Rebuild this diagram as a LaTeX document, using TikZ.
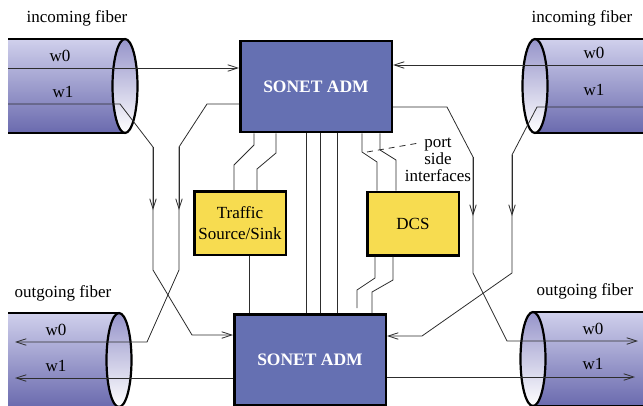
\documentclass[tikz,border=0pt]{standalone}
\usepackage{fontspec}
\setmainfont{Liberation Serif}
\usetikzlibrary{arrows.meta}

\definecolor{admblue}{RGB}{101,112,178}
\definecolor{boxyellow}{RGB}{247,220,80}
\definecolor{fibtop}{RGB}{208,208,236}
\definecolor{fibbot}{RGB}{106,106,174}
\definecolor{captop}{RGB}{150,148,202}
\definecolor{wirecol}{RGB}{45,45,45}

% fibre cable: #1 = open end x, #2 = cap centre x, #3 = centre y
\newcommand{\fibercable}[3]{%
  \shade[top color=fibtop, bottom color=fibbot] (#1,#3-47) rectangle (#2,#3+47);
  \draw[line width=2.2pt] (#1,#3-47) -- (#2,#3-47) (#1,#3+47) -- (#2,#3+47);
  \shade[top color=captop, bottom color=white] (#2,#3) ellipse [x radius=12.5pt, y radius=47pt];
  \draw[line width=2.2pt] (#2,#3) ellipse [x radius=12.5pt, y radius=47pt];
}

\begin{document}
\begin{tikzpicture}[x=1pt, y=-1pt,
    font=\fontsize{17}{20}\selectfont,
    >={Straight Barb[length=10pt,width=6.5pt]},
    adm/.style={draw, line width=2.5pt, fill=admblue, text=white, font=\fontsize{17.5}{20}\selectfont\bfseries,
      minimum width=151.5pt, minimum height=91pt, inner sep=0pt},
    tribbox/.style={draw, line width=2.5pt, fill=boxyellow, align=center,
      minimum width=91.5pt, minimum height=63.5pt, inner sep=0pt},
    wire/.style={draw=wirecol, line width=0.8pt},
    lbl/.style={inner sep=0pt}]
  \useasboundingbox (0,0) rectangle (643,405);

  % fibres
  \fibercable{8}{125}{86}
  \fibercable{643}{535}{86}
  \fibercable{8}{119}{360}
  \fibercable{643}{533}{359}

  \node[lbl] at (77,18) {incoming fiber};
  \node[lbl] at (582,18) {incoming fiber};
  \node[lbl] at (63,293) {outgoing fiber};
  \node[lbl] at (585,291) {outgoing fiber};

  \node[lbl] at (60,56) {w0};
  \node[lbl] at (63,92) {w1};
  \node[lbl] at (594,53) {w0};
  \node[lbl] at (594,90) {w1};
  \node[lbl] at (56,330) {w0};
  \node[lbl] at (56,366) {w1};
  \node[lbl] at (593,329) {w0};
  \node[lbl] at (593,364) {w1};

  % boxes
  \node[adm] (admtop) at (316,86.5) {SONET ADM};
  \node[adm] (admbot) at (310,360) {SONET ADM};
  \node[tribbox, font=\fontsize{17}{20.5}\selectfont] (tss) at (240,223) {Traffic\\Source/Sink};
  \node[tribbox] (dcs) at (413,223.5) {DCS};

  \node[lbl, align=center, font=\fontsize{17}{17}\selectfont] (port) at (438,160) {port\\side\\interfaces};

  % free ends of the line side wires
  \coordinate (inL0) at (8,68);
  \coordinate (inL1) at (8,104);
  \coordinate (outL0) at (15,342);
  \coordinate (outL1) at (15,378);
  \coordinate (inR0) at (643,65);
  \coordinate (inR1) at (643,107);
  \coordinate (outR0) at (638,341);
  \coordinate (outR1) at (635,377);
  \coordinate (portend) at (419,143);

  % left side
  \draw[wire,->] (inL0) -- (inL0 -| admtop.west);
  \draw[wire,->] (inL1) -- (120,104) -- (153,147) -- (153,270) -- (192,335) -- (admbot.west |- 0,335);
  \draw[wire,->] (153,147) -- (153,210);
  \draw[wire,->] (admtop.west |- 0,104) -- (207,104) -- (179,147) -- (179,270) -- (147,342) -- (outL0);
  \draw[wire,->] (179,147) -- (179,210);
  \draw[wire,->] (admbot.west |- outL1) -- (outL1);

  % right side
  \draw[wire,->] (inR0) -- (inR0 -| admtop.east);
  \draw[wire,->] (inR1) -- (537,107) -- (512,155) -- (512,273) -- (422,336) -- (admbot.east |- 0,336);
  \draw[wire,->] (512,155) -- (512,216);
  \draw[wire,->] (admtop.east |- 0,107) -- (447,107) -- (473,157) -- (473,273) -- (507,341) -- (outR0);
  \draw[wire,->] (473,157) -- (473,216);
  \draw[wire,->] (admbot.east |- outR1) -- (outR1);

  % drop side
  \draw[wire] (admtop.south -| 254,0) -- (254,145) -- (234,165) -- (tss.north -| 234,0);
  \draw[wire] (admtop.south -| 276,0) -- (276,153) -- (257,169) -- (tss.north -| 257,0);
  \draw[wire] (tss.south -| 249,0) -- (admbot.north -| 249,0);
  \foreach \x in {306,320,337}
    \draw[wire] (admtop.south -| \x,0) -- (admbot.north -| \x,0);
  \draw[wire] (admtop.south -| 362,0) -- (362,152) -- (377,162) -- (dcs.north -| 377,0);
  \draw[wire] (admtop.south -| 380,0) -- (380,150) -- (396,160) -- (dcs.north -| 396,0);
  \draw[wire] (dcs.south -| 375,0) -- (375,278) -- (357,290) -- (357,308);
  \draw[wire] (dcs.south -| 393,0) -- (393,280) -- (372,292) -- (admbot.north -| 372,0);

  \draw[wire, dash pattern=on 6pt off 5pt] (367,152) -- (portend);
\end{tikzpicture}
\end{document}
